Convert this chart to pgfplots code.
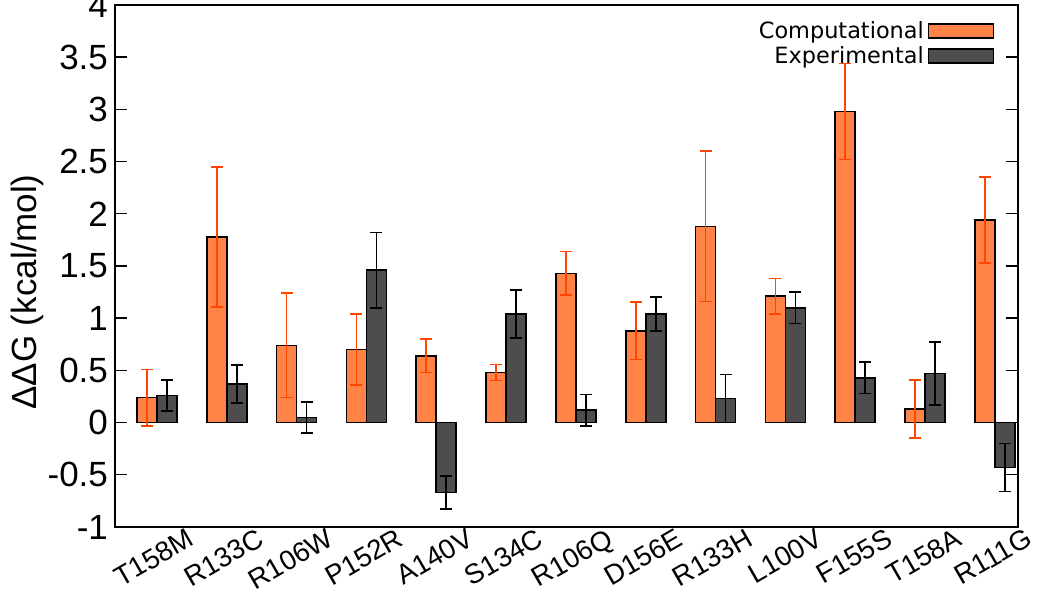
\documentclass[border=0pt]{standalone}
\usepackage{pgfplots}
\pgfplotsset{compat=1.18}
\usepackage{fontspec}
\setmainfont{Liberation Sans}
\newfontfamily\legfont{DejaVu Sans}
\definecolor{compfill}{HTML}{FF8247}
\definecolor{comperr}{HTML}{FF4500}
\definecolor{expfill}{HTML}{4D4D4D}

\begin{document}
\begin{tikzpicture}
\begin{axis}[
    name=main,
    scale only axis,
    width=451.5pt, height=261pt,
    ybar=0pt, bar width=10pt,
    xmin=-0.6, xmax=12.33,
    ymin=-1, ymax=4,
    xtick={0,...,12},
    xticklabels={T158M,R133C,R106W,P152R,A140V,S134C,R106Q,D156E,R133H,L100V,F155S,T158A,R111G},
    x tick label style={rotate=30, anchor=north east, font=\fontsize{13.8}{16}\selectfont, xshift=16pt, yshift=-4pt},
    major x tick style={draw=none},
    ytick={-1,-0.5,0,0.5,1,1.5,2,2.5,3,3.5,4},
    yticklabels={-1,-0.5,0,0.5,1,1.5,2,2.5,3,3.5,4},
    y tick label style={font=\fontsize{17.5}{19}\selectfont},
    ytick pos=both,
    tick align=inside,
    major tick length=6pt,
    tick style={line width=0.7pt, black},
    axis line style={line width=0.8pt},
    ylabel={ΔΔG (kcal/mol)},
    ylabel style={font=\fontsize{17.5}{19}\selectfont, yshift=-5pt, xshift=-13pt},
    legend style={at={(0.981,0.985)}, anchor=north east, draw=none, fill=none,
        font=\legfont\fontsize{11.2}{13}\selectfont, row sep=-1.5pt},
    legend cell align=right,
    legend plot pos=right,
    legend image code/.code={\draw[#1, line width=0.8pt] (8pt,-3.5pt) rectangle (40.5pt,3.5pt);},
]
\addplot[fill=compfill, draw=black, line width=0.8pt,
    error bars/.cd, y dir=both, y explicit,
    error bar style={color=comperr, line width=0.8pt},
    error mark options={rotate=90, mark size=3pt, line width=0.8pt, color=comperr}]
coordinates {
(0,0.24) +- (0,0.27)
(1,1.78) +- (0,0.67)
(2,0.74) +- (0,0.50)
(3,0.70) +- (0,0.34)
(4,0.64) +- (0,0.16)
(5,0.48) +- (0,0.075)
(6,1.43) +- (0,0.21)
(7,0.88) +- (0,0.275)
(8,1.88) +- (0,0.72)
(9,1.21) +- (0,0.17)
(10,2.98) +- (0,0.46)
(11,0.13) +- (0,0.28)
(12,1.94) +- (0,0.41)
};
\addlegendentry{Computational}
\addplot[fill=expfill, draw=black, line width=0.8pt,
    error bars/.cd, y dir=both, y explicit,
    error bar style={color=black, line width=0.8pt},
    error mark options={rotate=90, mark size=3pt, line width=0.8pt, color=black}]
coordinates {
(0,0.26) +- (0,0.15)
(1,0.37) +- (0,0.18)
(2,0.05) +- (0,0.15)
(3,1.46) +- (0,0.36)
(4,-0.67) +- (0,0.16)
(5,1.04) +- (0,0.23)
(6,0.12) +- (0,0.15)
(7,1.04) +- (0,0.165)
(8,0.23) +- (0,0.23)
(9,1.10) +- (0,0.15)
(10,0.43) +- (0,0.15)
(11,0.47) +- (0,0.30)
(12,-0.43) +- (0,0.23)
};
\addlegendentry{Experimental}
\end{axis}
\pgfresetboundingbox
\path ([shift={(-57.5pt,-32.5pt)}]main.south west) rectangle ([shift={(16pt,2.5pt)}]main.north east);
\end{tikzpicture}
\end{document}
